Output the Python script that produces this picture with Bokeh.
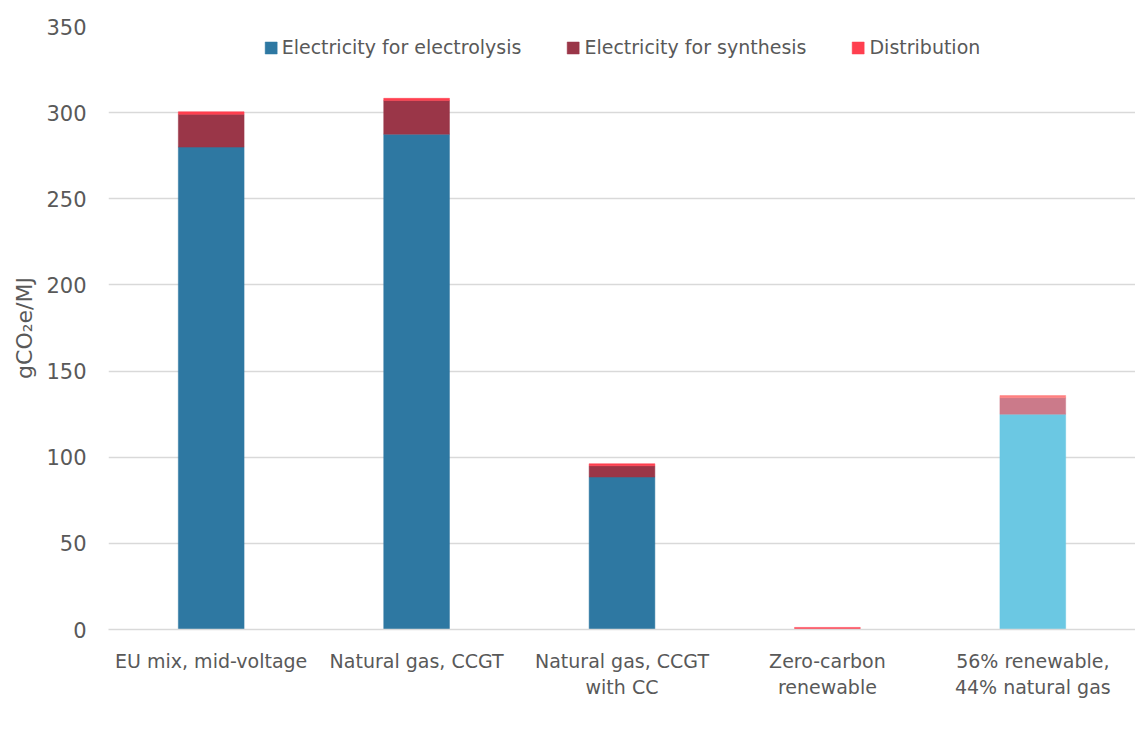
from bokeh.plotting import figure
from bokeh.models import ColumnDataSource, FactorRange, Legend, LegendItem
from bokeh.embed import file_html
from bokeh.resources import INLINE

categories = ["EU mix, mid-voltage", "Natural gas, CCGT", "Natural gas, CCGT\nwith CC",
              "Zero-carbon\nrenewable", "56% renewable,\n44% natural gas"]
electrolysis = [280, 287.5, 88.5, 0, 125]
synthesis = [19, 19.5, 6.5, 0, 9.5]
distribution = [1.5, 1.3, 1.2, 1.2, 1.3]
series = ["Electricity for electrolysis", "Electricity for synthesis", "Distribution"]
col_electrolysis = ["#2E78A2", "#2E78A2", "#2E78A2", "#2E78A2", "#6BC8E3"]
col_synthesis = ["#9A3648", "#9A3648", "#9A3648", "#9A3648", "#CB7A8A"]
col_distribution = ["#FF3F4F", "#FF3F4F", "#FF3F4F", "#FF3F4F", "#FF8080"]

FONT = "DejaVu Sans"
GREY = "#595959"

source = ColumnDataSource(dict(cat=categories, el=electrolysis, sy=synthesis, di=distribution,
                               c_el=col_electrolysis, c_sy=col_synthesis, c_di=col_distribution))

p = figure(x_range=FactorRange(*categories), y_range=(0, 350),
           frame_width=1027, frame_height=603,
           output_backend="svg", toolbar_location=None,
           min_border_left=108, min_border_right=0, min_border_top=26, min_border_bottom=0)
p.x_range.range_padding = 0

renderers = p.vbar_stack(["el", "sy", "di"], x="cat", width=0.32, source=source,
                         fill_color=["c_el", "c_sy", "c_di"], line_color=["c_el", "c_sy", "c_di"],
                         line_width=0.5)

p.outline_line_color = None
p.xgrid.grid_line_color = None
p.ygrid.grid_line_color = "#D9D9D9"
p.ygrid.grid_line_width = 1.3
p.yaxis.ticker = [0, 50, 100, 150, 200, 250, 300, 350]
p.yaxis.axis_line_color = None
p.yaxis.major_tick_line_color = None
p.yaxis.minor_tick_line_color = None
p.yaxis.major_label_text_font = FONT
p.yaxis.major_label_text_font_size = "21px"
p.yaxis.major_label_text_color = GREY
p.yaxis.major_label_standoff = 16
p.yaxis.axis_label = "gCO₂e/MJ"
p.yaxis.axis_label_text_font = FONT
p.yaxis.axis_label_text_font_style = "normal"
p.yaxis.axis_label_text_font_size = "22px"
p.yaxis.axis_label_text_color = GREY
p.yaxis.axis_label_standoff = 6

p.xaxis.axis_line_color = "#D9D9D9"
p.xaxis.axis_line_width = 1.3
p.xaxis.major_tick_line_color = None
p.xaxis.minor_tick_line_color = None
p.xaxis.major_label_text_font = FONT
p.xaxis.major_label_text_font_size = "19px"
p.xaxis.major_label_text_color = GREY
p.xaxis.major_label_standoff = 14

items = [LegendItem(label=s, renderers=[r]) for s, r in zip(series, renderers)]
legend = Legend(items=items, orientation="horizontal", location="top_center",
                label_text_font=FONT, label_text_font_size="19px", label_text_color=GREY,
                glyph_width=15, glyph_height=15, label_standoff=4, spacing=44,
                label_height=19, border_line_color=None, background_fill_color="white",
                background_fill_alpha=1, padding=4, margin=10)
p.add_layout(legend, "center")

open("out.html", "w").write(file_html(p, INLINE))
